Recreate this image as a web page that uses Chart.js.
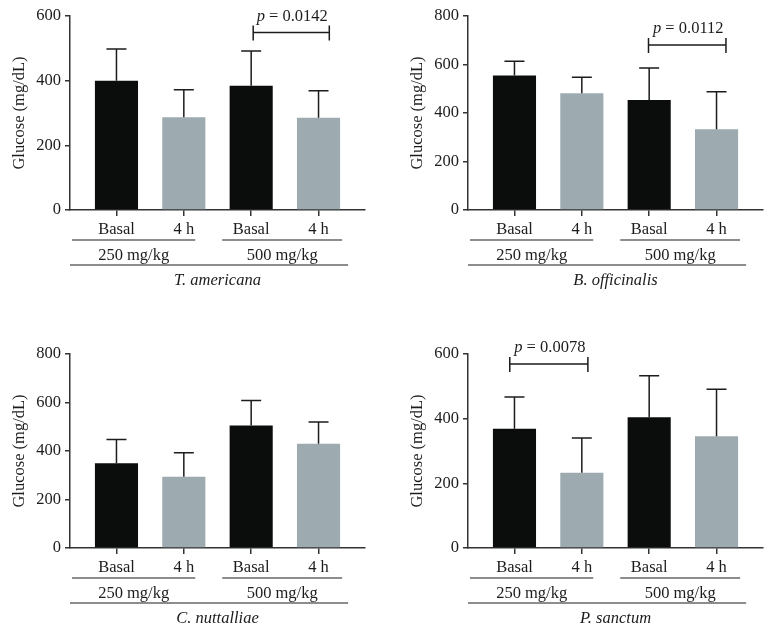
<!DOCTYPE html>
<html>
<head>
<meta charset="utf-8">
<script src="https://cdn.jsdelivr.net/npm/chart.js@4.4.0/dist/chart.umd.min.js"></script>
<style>
  body { margin: 0; background: #fff; overflow: hidden; }
  .panel { position: absolute; }
</style>
</head>
<body>
<canvas class="panel" id="c0" width="375" height="296" style="left:0px;top:0px"></canvas>
<canvas class="panel" id="c1" width="375" height="296" style="left:398px;top:0px"></canvas>
<canvas class="panel" id="c2" width="375" height="296" style="left:0px;top:338px"></canvas>
<canvas class="panel" id="c3" width="375" height="296" style="left:398px;top:338px"></canvas>
<script>
// Data
const categories = ['Basal', '4 h', 'Basal', '4 h'];
const doseLabels = ['250 mg/kg', '500 mg/kg'];
const speciesNames = ['T. americana', 'B. officinalis', 'C. nuttalliae', 'P. sanctum'];
const yMaxes = [600, 800, 800, 600];

const meanAmericana = [400, 287, 384, 285];
const sdAmericana = [98, 85, 108, 84];
const meanOfficinalis = [555, 481, 454, 333];
const sdOfficinalis = [58, 66, 132, 155];
const meanNuttalliae = [349, 294, 505, 430];
const sdNuttalliae = [98, 99, 103, 90];
const meanSanctum = [369, 233, 404, 346];
const sdSanctum = [98, 107, 129, 145];

const pValues = ['0.0142', '0.0112', null, '0.0078'];
const bracketFrom = [2.03, 1.99, null, -0.07];
const bracketTo = [3.16, 3.14, null, 1.09];
const bracketLevel = [549, 680, null, 569];

const means = [meanAmericana, meanOfficinalis, meanNuttalliae, meanSanctum];
const sds = [sdAmericana, sdOfficinalis, sdNuttalliae, sdSanctum];

const FONT = '"Liberation Serif", "Times New Roman", serif';
const FS = 16.5;
const INK = '#1c1c1c';
const barColors = ['#0b0d0c', '#9dabb1', '#0b0d0c', '#9dabb1'];

function makePanel(idx) {
    const m = means[idx];
    const s = sds[idx];

    const decorations = {
        id: 'decorations',
        afterDatasetsDraw(chart) {
            const { ctx } = chart;
            const y = chart.scales.y;
            const meta = chart.getDatasetMeta(0);
            ctx.save();
            ctx.strokeStyle = INK;
            ctx.lineWidth = 1.5;
            meta.data.forEach((bar, i) => {
                const top = y.getPixelForValue(m[i] + s[i]);
                ctx.beginPath();
                ctx.moveTo(bar.x, bar.y);
                ctx.lineTo(bar.x, top);
                ctx.moveTo(bar.x - 10, top);
                ctx.lineTo(bar.x + 10, top);
                ctx.stroke();
            });
            ctx.restore();
        },
        afterDraw(chart) {
            const { ctx } = chart;
            const x = chart.scales.x;
            const y = chart.scales.y;
            const base = chart.chartArea.bottom;
            ctx.save();
            ctx.strokeStyle = INK;
            ctx.fillStyle = INK;
            ctx.lineWidth = 1.2;

            // dose group underlines + labels
            const spans = [[-0.66, 1.17], [1.57, 3.35]];
            ctx.font = `${FS}px ${FONT}`;
            ctx.textAlign = 'center';
            ctx.textBaseline = 'middle';
            spans.forEach((sp, g) => {
                const a = x.getPixelForValue(sp[0]);
                const b = x.getPixelForValue(sp[1]);
                ctx.beginPath();
                ctx.moveTo(a, base + 30);
                ctx.lineTo(b, base + 30);
                ctx.stroke();
                ctx.fillText(doseLabels[g], (a + b) / 2, base + 46);
            });

            // species line + name
            ctx.beginPath();
            ctx.moveTo(x.getPixelForValue(-0.69), base + 55);
            ctx.lineTo(x.getPixelForValue(3.44), base + 55);
            ctx.stroke();
            ctx.font = `italic ${FS}px ${FONT}`;
            ctx.fillText(speciesNames[idx], x.getPixelForValue(1.5), base + 71);

            // significance bracket
            if (pValues[idx]) {
                const a = x.getPixelForValue(bracketFrom[idx]);
                const b = x.getPixelForValue(bracketTo[idx]);
                const h = y.getPixelForValue(bracketLevel[idx]);
                ctx.lineWidth = 1.5;
                ctx.beginPath();
                ctx.moveTo(a, h);
                ctx.lineTo(b, h);
                ctx.moveTo(a, h - 7);
                ctx.lineTo(a, h + 8);
                ctx.moveTo(b, h - 7);
                ctx.lineTo(b, h + 8);
                ctx.stroke();

                const pPart = 'p';
                const rest = ' = ' + pValues[idx];
                ctx.font = `italic ${FS}px ${FONT}`;
                const w1 = ctx.measureText(pPart).width;
                ctx.font = `${FS}px ${FONT}`;
                const w2 = ctx.measureText(rest).width;
                const cx = (a + b) / 2 + 1;
                const start = cx - (w1 + w2) / 2;
                ctx.textAlign = 'left';
                ctx.font = `italic ${FS}px ${FONT}`;
                ctx.fillText(pPart, start, h - 16);
                ctx.font = `${FS}px ${FONT}`;
                ctx.fillText(rest, start + w1, h - 16);
            }
            ctx.restore();
        }
    };

    const ctx = document.getElementById('c' + idx).getContext('2d');
    return new Chart(ctx, {
        type: 'bar',
        data: {
            datasets: [{
                data: m.map((v, i) => ({ x: i, y: v })),
                backgroundColor: barColors,
                borderWidth: 0,
                barPercentage: 0.64,
                categoryPercentage: 1
            }]
        },
        options: {
            responsive: false,
            animation: false,
            layout: { padding: { top: 16, right: 10, left: 0, bottom: 0 } },
            plugins: {
                legend: { display: false },
                tooltip: { enabled: false }
            },
            scales: {
                x: {
                    type: 'linear',
                    min: -0.69,
                    max: 3.69,
                    offset: false,
                    afterBuildTicks: (scale) => {
                        scale.ticks = categories.map((c, i) => ({ value: i }));
                    },
                    afterFit: (scale) => { scale.height = 86; },
                    border: { display: true, color: '#333', width: 1.5 },
                    grid: { offset: false, drawOnChartArea: false, drawTicks: true, tickLength: 6, color: '#333', lineWidth: 1.5 },
                    ticks: {
                        callback: (v) => categories[v],
                        font: { family: FONT, size: FS },
                        color: INK,
                        padding: 4,
                        maxRotation: 0,
                        autoSkip: false
                    }
                },
                y: {
                    min: 0,
                    max: yMaxes[idx],
                    afterFit: (scale) => { scale.width = 70; },
                    border: { display: true, color: '#333', width: 1.5 },
                    grid: { drawOnChartArea: false, drawTicks: true, tickLength: 5, color: '#333', lineWidth: 1.5 },
                    ticks: {
                        stepSize: 200,
                        font: { family: FONT, size: FS },
                        color: INK,
                        padding: 4
                    },
                    title: {
                        display: true,
                        text: 'Glucose (mg/dL)',
                        font: { family: FONT, size: FS },
                        color: INK,
                        padding: { top: 10, bottom: 0 }
                    }
                }
            }
        },
        plugins: [decorations]
    });
}

[0, 1, 2, 3].forEach(makePanel);
</script>
</body>
</html>
